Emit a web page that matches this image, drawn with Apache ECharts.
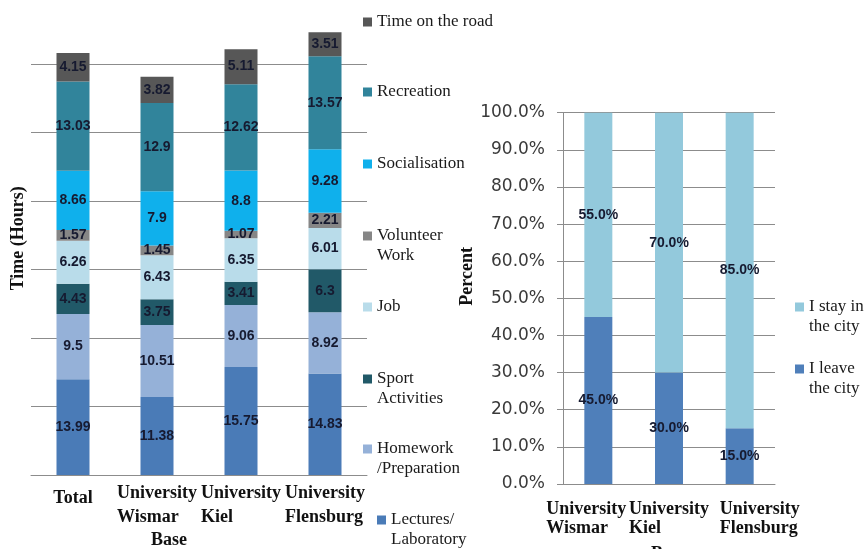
<!DOCTYPE html>
<html>
<head>
<meta charset="utf-8">
<script src="https://cdn.jsdelivr.net/npm/echarts@6/dist/echarts.min.js"></script>
<style>
html,body{margin:0;padding:0;background:#fff;}
#c{width:864px;height:549px;}
</style>
</head>
<body>
<div id="c"></div>
<script>
// ---- Data: left chart (time in hours) ----
const categoriesLeft = ['Total', 'University\nWismar', 'University\nKiel', 'University\nFlensburg'];
const lectures = [13.99, 11.38, 15.75, 14.83];
const homework = [9.5, 10.51, 9.06, 8.92];
const sport = [4.43, 3.75, 3.41, 6.3];
const job = [6.26, 6.43, 6.35, 6.01];
const volunteer = [1.57, 1.45, 1.07, 2.21];
const socialisation = [8.66, 7.9, 8.8, 9.28];
const recreation = [13.03, 12.9, 12.62, 13.57];
const road = [4.15, 3.82, 5.11, 3.51];
const leftTicks = [0, 10, 20, 30, 40, 50, 60, 70];

// ---- Data: right chart (percent) ----
const categoriesRight = ['University\nWismar', 'University\nKiel', 'University\nFlensburg'];
const leaveCity = [45, 30, 15];
const stayCity = [55, 70, 85];
const rightTicks = [0, 10, 20, 30, 40, 50, 60, 70, 80, 90, 100];

const SERIF = '"Liberation Serif", "Times New Roman", serif';
const SANS = '"Liberation Sans", Arial, sans-serif';
const LABEL_COLOR = '#161a30';
const GRID_COLOR = '#8c8c8c';

const leftSeriesDefs = [
  {name: 'Lectures/\nLaboratory', data: lectures, color: '#4a7bb7'},
  {name: 'Homework\n/Preparation', data: homework, color: '#95b1d8'},
  {name: 'Sport\nActivities', data: sport, color: '#215968'},
  {name: 'Job', data: job, color: '#b9dcea'},
  {name: 'Volunteer\nWork', data: volunteer, color: '#868686'},
  {name: 'Socialisation', data: socialisation, color: '#0fb0ec'},
  {name: 'Recreation', data: recreation, color: '#31849b'},
  {name: 'Time on the road', data: road, color: '#575757'}
];
const rightSeriesDefs = [
  {name: 'I leave\nthe city', data: leaveCity, color: '#4f7fba'},
  {name: 'I stay in\nthe city', data: stayCity, color: '#93c9dc'}
];

const series = [];
leftSeriesDefs.forEach(d => {
  series.push({
    type: 'bar', name: d.name, stack: 'hours', data: d.data,
    xAxisIndex: 0, yAxisIndex: 0, barWidth: 33,
    itemStyle: {color: d.color},
    label: {show: true, position: 'inside', formatter: '{c}',
      fontFamily: SANS, fontWeight: 'bold', fontSize: 14, color: LABEL_COLOR}
  });
});
rightSeriesDefs.forEach(d => {
  series.push({
    type: 'bar', name: d.name, stack: 'pct', data: d.data,
    xAxisIndex: 1, yAxisIndex: 1, barWidth: 28,
    itemStyle: {color: d.color},
    label: {show: true, position: 'inside', formatter: p => p.value.toFixed(1) + '%',
      fontFamily: SANS, fontWeight: 'bold', fontSize: 14, color: LABEL_COLOR}
  });
});

// legend positions: [name, left, top, twoLine]
const legendPlaces = [
  ['Time on the road', 363, 12, false],
  ['Recreation', 363, 82, false],
  ['Socialisation', 363, 154, false],
  ['Volunteer\nWork', 363, 206, true],
  ['Job', 363, 297, false],
  ['Sport\nActivities', 363, 349, true],
  ['Homework\n/Preparation', 363, 419, true],
  ['Lectures/\nLaboratory', 377, 490, true],
  ['I stay in\nthe city', 795, 277, true],
  ['I leave\nthe city', 795, 339, true]
];
const legends = legendPlaces.map(p => ({
  data: [{name: p[0], icon: 'rect'}],
  left: p[1], top: p[2], padding: 0,
  itemWidth: 9, itemHeight: 9, selectedMode: false,
  // a blank first line keeps the first text line level with the icon
  formatter: p[3] ? (name => '\n' + name) : (name => name),
  textStyle: {fontFamily: SERIF, fontSize: 17, color: '#1a1a1a', lineHeight: 20}
}));

const catRich = {fontFamily: SERIF, fontWeight: 'bold', fontSize: 18, color: '#111', align: 'left'};

const option = {
  animation: false,
  backgroundColor: '#fff',
  legend: legends,
  grid: [
    {left: 31, right: 497, top: -4.5, bottom: 74, outerBoundsMode: 'none', containLabel: false},
    {left: 563, right: 89, top: 112.7, bottom: 65, outerBoundsMode: 'none', containLabel: false}
  ],
  xAxis: [
    {
      type: 'category', gridIndex: 0, data: categoriesLeft,
      name: 'Base', nameLocation: 'middle', nameGap: 55,
      nameTextStyle: {fontFamily: SERIF, fontWeight: 'bold', fontSize: 18, color: '#111', padding: [0, 60, 0, 0]},
      axisLine: {lineStyle: {color: GRID_COLOR}},
      axisTick: {length: 5, lineStyle: {color: GRID_COLOR}},
      splitLine: {show: false},
      axisLabel: {
        margin: 6, interval: 0,
        formatter: (v, i) => v.split('\n').map(l => '{' + (i === 0 ? 't' : 'l') + '|' + l + '}').join('\n'),
        rich: {
          l: Object.assign({}, catRich, {lineHeight: 24}),
          t: Object.assign({}, catRich, {lineHeight: 34})
        }
      }
    },
    {
      type: 'category', gridIndex: 1, data: categoriesRight,
      name: 'Base', nameLocation: 'middle', nameGap: 61,
      nameTextStyle: {fontFamily: SERIF, fontWeight: 'bold', fontSize: 18, color: '#111'},
      axisLine: {lineStyle: {color: GRID_COLOR}},
      axisTick: {length: 5, lineStyle: {color: GRID_COLOR}},
      splitLine: {show: false},
      axisLabel: {
        margin: 15.5, interval: 0,
        formatter: (v, i) => v.split('\n').map(l => '{' + ['w', 'k', 'f'][i] + '|' + l + '}').join('\n'),
        rich: {
          w: Object.assign({}, catRich, {lineHeight: 19, padding: [0, 24, 0, 0]}),
          k: Object.assign({}, catRich, {lineHeight: 19}),
          f: Object.assign({}, catRich, {lineHeight: 19, padding: [0, 0, 0, 40]})
        }
      }
    }
  ],
  yAxis: [
    {
      type: 'value', gridIndex: 0,
      min: leftTicks[0], max: leftTicks[leftTicks.length - 1], interval: leftTicks[1] - leftTicks[0],
      name: 'Time (Hours)', nameLocation: 'middle', nameGap: 3.5,
      nameTextStyle: {fontFamily: SERIF, fontWeight: 'bold', fontSize: 18, color: '#111', padding: [0, 6, 0, 0]},
      axisLine: {show: false}, axisTick: {show: false}, axisLabel: {show: false},
      splitLine: {lineStyle: {color: GRID_COLOR}}
    },
    {
      type: 'value', gridIndex: 1,
      min: rightTicks[0], max: rightTicks[rightTicks.length - 1], interval: rightTicks[1] - rightTicks[0],
      name: 'Percent', nameLocation: 'middle', nameGap: 87,
      nameTextStyle: {fontFamily: SERIF, fontWeight: 'bold', fontSize: 18, color: '#111', padding: [0, 0, 0, 44]},
      axisLine: {show: true, lineStyle: {color: GRID_COLOR}},
      axisTick: {show: true, length: 6, lineStyle: {color: GRID_COLOR}},
      axisLabel: {margin: 18, formatter: v => v.toFixed(1) + '%',
        fontFamily: '"DejaVu Sans", Verdana, sans-serif', fontSize: 17, color: '#3a3a3a'},
      splitLine: {lineStyle: {color: GRID_COLOR}}
    }
  ],
  series: series
};

const chart = echarts.init(document.getElementById('c'), null, {renderer: 'canvas'});
chart.setOption(option);
</script>
</body>
</html>
